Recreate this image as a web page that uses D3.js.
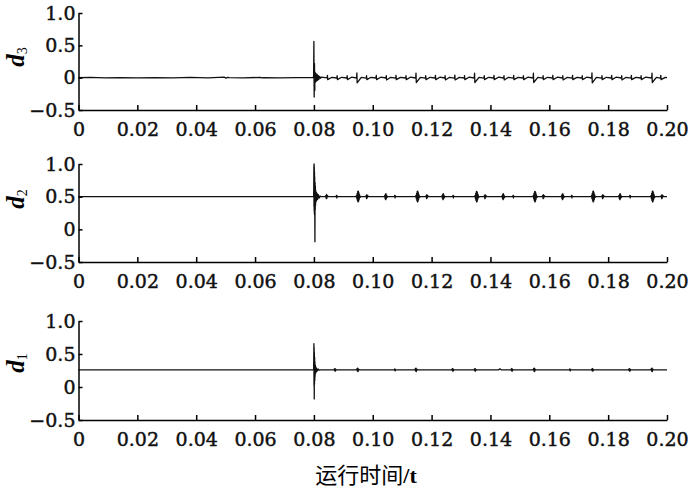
<!DOCTYPE html>
<html lang="zh">
<head>
<meta charset="utf-8">
<title>d3 d2 d1 运行时间</title>
<script src="https://cdn.jsdelivr.net/npm/d3@7"></script>
<style>
  body { margin: 0; background: #fff; }
  .axis path, .axis line { stroke: #000; stroke-width: 1.5; }
  .axis text { font-family: "DejaVu Serif", serif; font-size: 19px; fill: #111; stroke: #111; stroke-width: 0.45; }
  .trace { fill: none; stroke: #111; stroke-width: 1.3; stroke-linejoin: round; }
</style>
</head>
<body>
<script>
var xTicks = [0, 0.02, 0.04, 0.06, 0.08, 0.10, 0.12, 0.14, 0.16, 0.18, 0.20];
var yTicks = [1.0, 0.5, 0, -0.5];
var panelSubs = ["3", "2", "1"];
var xTitleCn = "运行时间";
var xTitleUnit = "/t";

// d3 trace: [t, value]
var traceD3 = [
  [0,0],[0.004,0.003],[0.009,-0.002],[0.014,0.002],[0.02,-0.003],[0.026,0.002],[0.032,-0.002],
  [0.038,0.003],[0.044,-0.002],[0.0495,0.008],[0.0501,-0.006],[0.0507,0.005],[0.0512,0],
  [0.056,-0.003],[0.0618,0.004],[0.0624,-0.005],[0.0629,0.002],[0.068,-0.002],[0.074,0.002],[0.0797,0],
  [0.0799,0.02],[0.08,0.56],[0.08005,-0.02],[0.0801,-0.30],[0.08015,0.10],[0.0802,0.22],[0.08025,-0.12],
  [0.0803,-0.20],[0.08035,0.09],[0.0804,0.08],[0.0805,-0.07],[0.0806,0.07],[0.0807,-0.06],[0.0808,0.06],
  [0.0809,-0.05],[0.0811,0.05],[0.0813,-0.04],[0.0815,0.03],[0.0817,-0.025],[0.0819,0.02],[0.0822,-0.01],[0.0825,0.008],
  [0.0845,-0.004],[0.0846,0.035],[0.0847,-0.03],[0.0861,0.006],
  [0.0878,-0.005],[0.0879,0.03],[0.088,-0.03],[0.0894,0.006],
  [0.0912,-0.005],[0.0913,0.03],[0.0914,-0.03],[0.0928,0.007],
  [0.0945,-0.005],[0.0946,0.075],[0.0947,-0.08],[0.0961,0.006],
  [0.0978,-0.006],[0.0979,0.03],[0.098,-0.03],[0.0994,0.006],
  [0.1011,-0.005],[0.1012,0.035],[0.1013,-0.03],[0.1027,0.007],
  [0.1045,-0.005],[0.1046,0.03],[0.1047,-0.035],[0.1061,0.006],
  [0.1078,-0.006],[0.1079,0.035],[0.108,-0.03],[0.1094,0.005],
  [0.1112,-0.005],[0.1113,0.03],[0.1114,-0.03],[0.1128,0.007],
  [0.1146,-0.005],[0.1147,0.07],[0.1148,-0.075],[0.1162,0.006],
  [0.1179,-0.006],[0.118,0.03],[0.1181,-0.03],[0.1195,0.006],
  [0.1212,-0.005],[0.1213,0.035],[0.1214,-0.03],[0.1228,0.007],
  [0.1245,-0.005],[0.1246,0.03],[0.1247,-0.035],[0.1261,0.006],
  [0.1278,-0.006],[0.1279,0.04],[0.128,-0.035],[0.1294,0.005],
  [0.1311,-0.005],[0.1312,0.03],[0.1313,-0.03],[0.1327,0.007],
  [0.1345,-0.005],[0.1346,0.07],[0.1347,-0.075],[0.1361,0.006],
  [0.1378,-0.006],[0.1379,0.03],[0.138,-0.03],[0.1394,0.006],
  [0.1411,-0.005],[0.1412,0.035],[0.1413,-0.03],[0.1427,0.007],
  [0.1445,-0.005],[0.1446,0.03],[0.1447,-0.035],[0.1461,0.006],
  [0.1478,-0.006],[0.1479,0.035],[0.148,-0.03],[0.1494,0.005],
  [0.1511,-0.005],[0.1512,0.03],[0.1513,-0.03],[0.1527,0.007],
  [0.1545,-0.005],[0.1546,0.07],[0.1547,-0.075],[0.1561,0.006],
  [0.1578,-0.006],[0.1579,0.03],[0.158,-0.03],[0.1594,0.006],
  [0.1611,-0.005],[0.1612,0.035],[0.1613,-0.03],[0.1627,0.007],
  [0.1645,-0.005],[0.1646,0.03],[0.1647,-0.035],[0.1661,0.006],
  [0.1678,-0.006],[0.1679,0.035],[0.168,-0.03],[0.1694,0.005],
  [0.1711,-0.005],[0.1712,0.03],[0.1713,-0.03],[0.1727,0.007],
  [0.1744,-0.005],[0.1745,0.075],[0.1746,-0.08],[0.176,0.006],
  [0.1778,-0.006],[0.1779,0.03],[0.178,-0.03],[0.1794,0.006],
  [0.1811,-0.005],[0.1812,0.035],[0.1813,-0.03],[0.1827,0.007],
  [0.1845,-0.005],[0.1846,0.03],[0.1847,-0.035],[0.1861,0.006],
  [0.1878,-0.006],[0.1879,0.035],[0.188,-0.03],[0.1894,0.005],
  [0.1911,-0.005],[0.1912,0.03],[0.1913,-0.03],[0.1927,0.007],
  [0.1948,-0.005],[0.1949,0.07],[0.195,-0.075],[0.1964,0.006],
  [0.1978,-0.006],[0.1979,0.035],[0.198,-0.03],[0.1994,0.005],
  [0.2,0]
];

// d2 trace
var traceD2 = [
  [0,0.5],[0.0799,0.5],
  [0.07995,0.62],[0.08,0.98],[0.08003,0.35],[0.08007,1.0],[0.0801,0.28],[0.08013,0.95],[0.08017,0.24],
  [0.0802,0.88],[0.08023,0.22],[0.08027,0.80],[0.0803,0.25],[0.08035,-0.19],[0.0804,0.72],[0.08045,0.30],
  [0.0805,0.66],[0.08055,0.36],[0.0806,0.6],[0.0807,0.42],[0.0808,0.57],[0.0809,0.44],[0.0811,0.55],
  [0.0813,0.46],[0.0815,0.53],[0.0818,0.48],[0.0821,0.51],[0.0824,0.5],
  [0.0839,0.5],[0.0841,0.52],[0.0842,0.47],[0.0843,0.535],[0.0844,0.475],[0.0846,0.515],[0.0849,0.5],
  [0.0875,0.5],[0.0877,0.52],[0.0878,0.48],[0.0879,0.51],[0.0881,0.5],
  [0.0943,0.5],[0.0945,0.52],[0.0946,0.47],[0.0947,0.55],[0.0948,0.44],[0.0949,0.58],[0.095,0.42],[0.0951,0.585],[0.0952,0.43],[0.0953,0.56],[0.0954,0.46],[0.0955,0.53],[0.0957,0.49],[0.096,0.5],
  [0.0976,0.5],[0.0978,0.52],[0.0979,0.47],[0.098,0.53],[0.0981,0.48],[0.0983,0.515],[0.0986,0.5],
  [0.104,0.5],[0.1041,0.52],[0.1042,0.47],[0.1043,0.54],[0.1044,0.455],[0.1045,0.545],[0.1046,0.47],[0.1047,0.525],[0.1049,0.49],[0.1051,0.5],
  [0.1073,0.5],[0.1075,0.52],[0.1076,0.48],[0.1077,0.51],[0.1079,0.5],
  [0.1145,0.5],[0.1147,0.52],[0.1148,0.47],[0.1149,0.55],[0.115,0.44],[0.1151,0.58],[0.1152,0.42],[0.1153,0.585],[0.1154,0.43],[0.1155,0.56],[0.1156,0.46],[0.1157,0.53],[0.1159,0.49],[0.1162,0.5],
  [0.118,0.5],[0.1182,0.52],[0.1183,0.47],[0.1184,0.53],[0.1185,0.48],[0.1187,0.515],[0.119,0.5],
  [0.1235,0.5],[0.1236,0.52],[0.1237,0.47],[0.1238,0.54],[0.1239,0.455],[0.124,0.545],[0.1241,0.47],[0.1242,0.525],[0.1244,0.49],[0.1246,0.5],
  [0.1271,0.5],[0.1273,0.52],[0.1274,0.48],[0.1275,0.51],[0.1277,0.5],
  [0.1346,0.5],[0.1348,0.52],[0.1349,0.47],[0.135,0.55],[0.1351,0.44],[0.1352,0.575],[0.1353,0.42],[0.1354,0.58],[0.1355,0.43],[0.1356,0.56],[0.1357,0.46],[0.1358,0.53],[0.136,0.49],[0.1363,0.5],
  [0.1378,0.5],[0.138,0.52],[0.1381,0.47],[0.1382,0.53],[0.1383,0.48],[0.1385,0.515],[0.1388,0.5],
  [0.1439,0.5],[0.144,0.52],[0.1441,0.47],[0.1442,0.54],[0.1443,0.455],[0.1444,0.545],[0.1445,0.47],[0.1446,0.525],[0.1448,0.49],[0.145,0.5],
  [0.1475,0.5],[0.1477,0.52],[0.1478,0.48],[0.1479,0.51],[0.1481,0.5],
  [0.1544,0.5],[0.1546,0.52],[0.1547,0.47],[0.1548,0.55],[0.1549,0.44],[0.155,0.575],[0.1551,0.42],[0.1552,0.58],[0.1553,0.43],[0.1554,0.56],[0.1555,0.46],[0.1556,0.53],[0.1558,0.49],[0.1561,0.5],
  [0.1576,0.5],[0.1578,0.52],[0.1579,0.47],[0.158,0.53],[0.1581,0.48],[0.1583,0.515],[0.1586,0.5],
  [0.1641,0.5],[0.1642,0.52],[0.1643,0.47],[0.1644,0.54],[0.1645,0.455],[0.1646,0.545],[0.1647,0.47],[0.1648,0.525],[0.165,0.49],[0.1652,0.5],
  [0.1674,0.5],[0.1676,0.52],[0.1677,0.48],[0.1678,0.51],[0.168,0.5],
  [0.1742,0.5],[0.1744,0.52],[0.1745,0.47],[0.1746,0.55],[0.1747,0.44],[0.1748,0.58],[0.1749,0.42],[0.175,0.585],[0.1751,0.43],[0.1752,0.56],[0.1753,0.46],[0.1754,0.53],[0.1756,0.49],[0.1759,0.5],
  [0.1778,0.5],[0.178,0.52],[0.1781,0.47],[0.1782,0.53],[0.1783,0.48],[0.1785,0.515],[0.1788,0.5],
  [0.1836,0.5],[0.1837,0.52],[0.1838,0.47],[0.1839,0.54],[0.184,0.455],[0.1841,0.545],[0.1842,0.47],[0.1843,0.525],[0.1845,0.49],[0.1847,0.5],
  [0.1872,0.5],[0.1874,0.52],[0.1875,0.48],[0.1876,0.51],[0.1878,0.5],
  [0.1944,0.5],[0.1946,0.52],[0.1947,0.47],[0.1948,0.55],[0.1949,0.44],[0.195,0.58],[0.1951,0.42],[0.1952,0.585],[0.1953,0.43],[0.1954,0.56],[0.1955,0.46],[0.1956,0.53],[0.1958,0.49],[0.1961,0.5],
  [0.1979,0.5],[0.1981,0.52],[0.1982,0.47],[0.1983,0.53],[0.1984,0.48],[0.1986,0.515],[0.1989,0.5],
  [0.2,0.5]
];

// d1 trace
var traceD1 = [
  [0,0.26],[0.0799,0.26],
  [0.07995,0.40],[0.08,0.656],[0.08004,0.02],[0.08008,0.60],[0.08012,-0.18],[0.08016,0.52],[0.0802,0.04],
  [0.08025,0.45],[0.0803,0.10],[0.08035,0.38],[0.0804,0.16],[0.0805,0.33],[0.0806,0.21],[0.0807,0.30],
  [0.0808,0.23],[0.081,0.28],[0.0812,0.245],[0.0815,0.27],[0.0819,0.255],[0.0823,0.26],
  [0.0868,0.26],[0.087,0.275],[0.0871,0.245],[0.0872,0.28],[0.0873,0.24],[0.0875,0.265],[0.0877,0.26],
  [0.0945,0.26],[0.0947,0.28],[0.0948,0.24],[0.0949,0.285],[0.095,0.235],[0.0952,0.27],[0.0954,0.26],
  [0.1073,0.26],[0.1075,0.275],[0.1076,0.245],[0.1078,0.26],
  [0.1143,0.26],[0.1145,0.28],[0.1146,0.24],[0.1147,0.285],[0.1148,0.235],[0.115,0.27],[0.1152,0.26],
  [0.1268,0.26],[0.127,0.275],[0.1271,0.245],[0.1272,0.28],[0.1273,0.24],[0.1275,0.265],[0.1277,0.26],
  [0.1344,0.26],[0.1346,0.275],[0.1347,0.245],[0.1348,0.28],[0.1349,0.24],[0.1351,0.265],[0.1353,0.26],
  [0.1428,0.26],[0.1432,0.275],[0.1436,0.26],
  [0.1469,0.26],[0.1471,0.275],[0.1472,0.245],[0.1473,0.28],[0.1474,0.24],[0.1476,0.265],[0.1478,0.26],
  [0.1545,0.26],[0.1547,0.28],[0.1548,0.24],[0.1549,0.285],[0.155,0.235],[0.1552,0.27],[0.1554,0.26],
  [0.1668,0.26],[0.167,0.275],[0.1671,0.245],[0.1673,0.26],
  [0.1743,0.26],[0.1745,0.275],[0.1746,0.245],[0.1747,0.28],[0.1748,0.24],[0.175,0.265],[0.1752,0.26],
  [0.1869,0.26],[0.1871,0.275],[0.1872,0.245],[0.1873,0.28],[0.1874,0.24],[0.1876,0.265],[0.1878,0.26],
  [0.1945,0.26],[0.1947,0.28],[0.1948,0.24],[0.1949,0.285],[0.195,0.235],[0.1952,0.27],[0.1954,0.26],
  [0.2,0.26]
];

var traces = [traceD3, traceD2, traceD1];

var w = 700, h = 495;
var left = 78.5, right = 667;
// panel layout: top (y of 1.0), bottom (y of -0.5), label centre
var panelTop = [13, 164, 321];
var panelBottom = [110, 262, 420];
var labelY = [57, 199, 363];

var svg = d3.select("body").append("svg")
  .attr("width", w)
  .attr("height", h);

var xScale = d3.scaleLinear().domain([0, 0.2]).range([left, right]);

var fmtX = function(d) { return d === 0 ? "0" : d3.format(".2f")(d); };
var fmtY = function(d) { return d === 0 ? "0" : d3.format(".1f")(d); };

traces.forEach(function(trace, i) {
  var yScale = d3.scaleLinear().domain([-0.5, 1.0]).range([panelBottom[i], panelTop[i]]);

  var xAxis = d3.axisBottom(xScale)
    .tickValues(xTicks)
    .tickFormat(fmtX)
    .tickSizeInner(-5)
    .tickSizeOuter(0)
    .tickPadding(13);

  var yAxis = d3.axisLeft(yScale)
    .tickValues(yTicks)
    .tickFormat(fmtY)
    .tickSizeInner(-4)
    .tickSizeOuter(0)
    .tickPadding(3);

  var line = d3.line()
    .x(function(d) { return xScale(d[0]); })
    .y(function(d) { return yScale(d[1]); });

  svg.append("path")
    .datum(trace)
    .attr("class", "trace")
    .attr("d", line);

  svg.append("g")
    .attr("class", "axis")
    .attr("transform", "translate(0," + panelBottom[i] + ")")
    .call(xAxis);

  svg.append("g")
    .attr("class", "axis")
    .attr("transform", "translate(" + left + ",0)")
    .call(yAxis);

  // y label d with subscript
  var lab = svg.append("text")
    .attr("transform", "translate(24," + labelY[i] + ") rotate(-90)")
    .attr("text-anchor", "middle")
    .style("font-family", "'Liberation Serif', serif");
  lab.append("tspan")
    .text("d")
    .style("font-size", "25px")
    .style("font-style", "italic")
    .style("font-weight", "bold");
  lab.append("tspan")
    .attr("dy", 3)
    .text(panelSubs[i])
    .style("font-size", "14px");
});

// x title
var title = svg.append("text")
  .attr("x", 366)
  .attr("y", 483)
  .attr("text-anchor", "middle");
title.append("tspan")
  .text(xTitleCn)
  .style("font-family", "'Noto Sans CJK SC', sans-serif")
  .style("font-size", "22px");
title.append("tspan")
  .text(xTitleUnit)
  .style("font-family", "'Liberation Serif', serif")
  .style("font-weight", "bold")
  .style("font-size", "22px");
</script>
</body>
</html>
